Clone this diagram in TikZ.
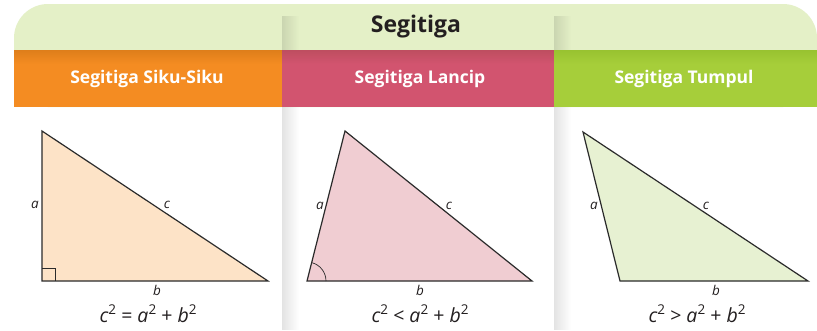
\documentclass[tikz,border=0pt]{standalone}
\usepackage{fontspec}
\setmainfont{Open Sans}
\usetikzlibrary{fadings}
\definecolor{bandgreen}{HTML}{E4F0C7}
\definecolor{hOrange}{HTML}{F48C22}
\definecolor{hOrangeD}{HTML}{DE7E1A}
\definecolor{hPink}{HTML}{D2546F}
\definecolor{hPinkD}{HTML}{BE4E60}
\definecolor{hGreen}{HTML}{A6CE3A}
\definecolor{hGreenD}{HTML}{98C230}
\definecolor{fOrange}{HTML}{FDE3C7}
\definecolor{fPink}{HTML}{F0CDD2}
\definecolor{fGreen}{HTML}{E7F1D2}
\definecolor{edge}{HTML}{2B2B2B}
\definecolor{ink}{HTML}{231F20}
\tikzfading[name=shadowfade, left color=transparent!0, right color=transparent!100]
\tikzset{
  tri/.style={draw=edge, line width=1.2pt, line join=miter},
  lbl/.style={font=\fontsize{13.5}{14}\selectfont\itshape, text=ink, inner sep=0pt},
  hdr/.style={font=\fontsize{17.5}{18}\selectfont\bfseries, text=white, inner sep=0pt},
  frm/.style={font=\fontsize{19.5}{20}\selectfont, text=ink, inner sep=0pt},
  colshadow/.style={fill=black, fill opacity=0.11, path fading=shadowfade}
}
\newcommand{\sq}[1]{\textit{#1}\raisebox{0.8ex}{\fontsize{13.5}{14}\selectfont 2}}
\begin{document}
\begin{tikzpicture}[x=1pt,y=-1pt]
\useasboundingbox (0,0) rectangle (817,330);
\fill[white] (0,0) rectangle (817,330);
% top band
\fill[bandgreen, rounded corners=34pt] (14,4) -- (817,4) -- (817,107) -- (14,107) -- cycle;
% column shadows
\fill[colshadow] (282,16) rectangle (299,330);
\fill[colshadow] (554,16) rectangle (571,330);
% headers
\fill[hOrange] (14,50) rectangle (282,107);
\fill[hPink] (282,50) rectangle (554,107);
\fill[hGreen] (554,50) rectangle (817,107);
\shade[top color=hOrangeD, bottom color=hOrange] (14,50) rectangle (282,64);
\shade[top color=hPinkD, bottom color=hPink] (282,50) rectangle (554,64);
\shade[top color=hGreenD, bottom color=hGreen] (554,50) rectangle (817,64);
\node[font=\fontsize{23}{24}\selectfont\bfseries, text=ink, inner sep=0pt] (title) at (416,27) {Segitiga};
\node[hdr] (h1) at (147,79) {Segitiga Siku-Siku};
\node[hdr] (h2) at (420,79) {Segitiga Lancip};
\node[hdr] (h3) at (684,79) {Segitiga Tumpul};
% triangle 1: right
\coordinate (A1) at (42,131);
\coordinate (B1) at (42,281);
\coordinate (C1) at (268,281);
\filldraw[tri, fill=fOrange] (A1) -- (B1) -- (C1) -- cycle;
\draw[edge, line width=0.7pt] (B1) ++(0,-13) -- ++(13,0) -- ++(0,13);
\node[lbl] (a1) at (35,205) {a};
\node[lbl] (c1) at (167,205) {c};
\node[lbl] (b1) at (157,290) {b};
\node[frm] (f1) at (148,314) {\sq{c} = \sq{a} + \sq{b}};
% triangle 2: acute
\coordinate (A2) at (345,131);
\coordinate (B2) at (307,281);
\coordinate (C2) at (532,281);
\filldraw[tri, fill=fPink] (A2) -- (B2) -- (C2) -- cycle;
\draw[edge, line width=0.7pt] (B2) ++(19,0) arc[start angle=0, end angle=-75.8, radius=19];
\node[lbl] (a2) at (320,206) {a};
\node[lbl] (c2) at (449,206) {c};
\node[lbl] (b2) at (420,290) {b};
\node[frm] (f2) at (420,314) {\sq{c} < \sq{a} + \sq{b}};
% triangle 3: obtuse
\coordinate (A3) at (583,132);
\coordinate (B3) at (620,281);
\coordinate (C3) at (808,281);
\filldraw[tri, fill=fGreen] (A3) -- (B3) -- (C3) -- cycle;
\node[lbl] (a3) at (594,206) {a};
\node[lbl] (c3) at (706,206) {c};
\node[lbl] (b3) at (716,290) {b};
\node[frm] (f3) at (697,314) {\sq{c} > \sq{a} + \sq{b}};
\end{tikzpicture}
\end{document}
